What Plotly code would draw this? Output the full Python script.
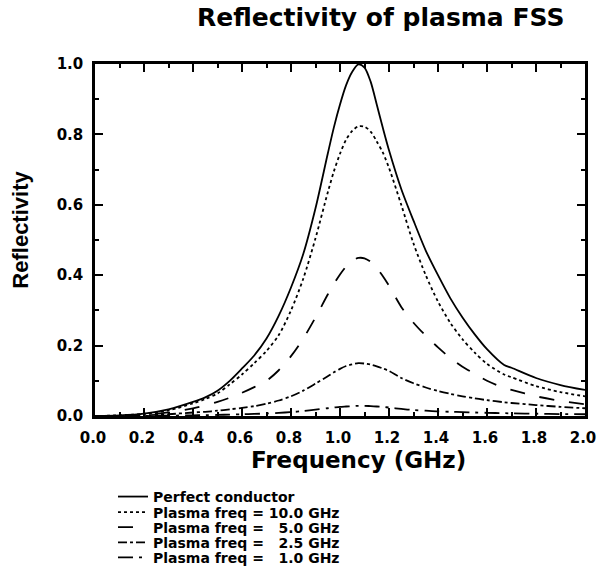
import plotly.graph_objects as go

# ---- data ----
freq = [0.0, 0.1, 0.2, 0.3, 0.4, 0.45, 0.5, 0.55, 0.6, 0.65, 0.7, 0.75, 0.8, 0.85, 0.9,
        0.95, 0.975, 1.0, 1.025, 1.05, 1.075, 1.1, 1.125, 1.15, 1.175, 1.2,
        1.25, 1.3, 1.35, 1.4, 1.45, 1.5, 1.55, 1.6, 1.67, 1.7, 1.8, 1.9, 2.0]

perfect = [0.0, 0.002, 0.007, 0.019, 0.040, 0.053, 0.072, 0.10, 0.135, 0.172, 0.22, 0.285, 0.365,
           0.46, 0.59,
           0.745, 0.82, 0.885, 0.94, 0.978, 0.999, 0.99, 0.95, 0.885, 0.818, 0.755,
           0.645, 0.555, 0.47, 0.40, 0.335, 0.28, 0.232, 0.19, 0.145, 0.137, 0.108, 0.088, 0.074]

plasma_10 = [0.0, 0.002, 0.006, 0.016, 0.036, 0.048, 0.064, 0.09, 0.118, 0.15, 0.185, 0.23, 0.30,
             0.39, 0.505,
             0.635, 0.695, 0.745, 0.785, 0.81, 0.823, 0.822, 0.808, 0.78, 0.748, 0.705,
             0.60, 0.49, 0.40, 0.325, 0.265, 0.218, 0.18, 0.148, 0.118, 0.11, 0.085, 0.068, 0.056]

plasma_5 = [0.0, 0.001, 0.004, 0.010, 0.022, 0.030, 0.040, 0.052, 0.066, 0.082, 0.10, 0.13, 0.17,
            0.22, 0.28,
            0.345, 0.375, 0.402, 0.425, 0.441, 0.449, 0.448, 0.438, 0.42, 0.397, 0.37,
            0.31, 0.265, 0.228, 0.195, 0.165, 0.14, 0.12, 0.10, 0.08, 0.074, 0.056, 0.043, 0.033]

plasma_2_5 = [0.0, 0.0005, 0.002, 0.005, 0.010, 0.012, 0.015, 0.019, 0.023, 0.028, 0.035, 0.044,
              0.056, 0.072, 0.092,
              0.113, 0.124, 0.134, 0.142, 0.147, 0.15, 0.149, 0.146, 0.141, 0.135, 0.128,
              0.108, 0.093, 0.081, 0.071, 0.063, 0.056, 0.05, 0.045, 0.039, 0.037, 0.031, 0.026,
              0.022]

plasma_1 = [0.0, 0.0, 0.0005, 0.001, 0.002, 0.0025, 0.003, 0.004, 0.005, 0.006, 0.007, 0.009,
            0.011, 0.014, 0.018,
            0.022, 0.024, 0.026, 0.027, 0.028, 0.029, 0.029, 0.028, 0.027, 0.026, 0.024,
            0.020, 0.017, 0.015, 0.013, 0.012, 0.011, 0.010, 0.009, 0.008, 0.0075, 0.0065,
            0.0055, 0.005]

series_names = [
    "Perfect conductor",
    "Plasma freq = 10.0 GHz",
    "Plasma freq = \u20075.0 GHz",
    "Plasma freq = \u20072.5 GHz",
    "Plasma freq = \u20071.0 GHz",
]
series_values = [perfect, plasma_10, plasma_5, plasma_2_5, plasma_1]

title_text = "Reflectivity of plasma FSS"
x_title = "Frequency (GHz)"
y_title = "Reflectivity"

# ---- styles / layout ----
dash_styles = ["solid", "dot", "longdash", "dashdot", "longdashdot"]
legend_rows_y = [-0.230, -0.274, -0.317, -0.360, -0.403]

W, H = 597, 571
L, R, T, B = 95, 12, 64, 155
PLOT_W = W - L - R

font_bold = dict(family="DejaVu Sans", color="black", weight=700)

fig = go.Figure()
for i, (name, vals) in enumerate(zip(series_names, series_values)):
    lg = "legend" if i == 0 else f"legend{i + 1}"
    fig.add_trace(go.Scatter(
        x=freq, y=vals, name=name, mode="lines",
        line=dict(color="black", width=1.8, dash=dash_styles[i], shape="spline", smoothing=0.8),
        legend=lg, showlegend=True,
    ))

legend_common = dict(
    x=(113 - L) / PLOT_W, xanchor="left", yanchor="middle",
    bgcolor="rgba(0,0,0,0)", borderwidth=0, itemwidth=30,
    font=dict(size=14, **font_bold),
)
layout_legends = {}
for i, yy in enumerate(legend_rows_y):
    key = "legend" if i == 0 else f"legend{i + 1}"
    layout_legends[key] = dict(y=yy, **legend_common)

axis_common = dict(
    showgrid=False, zeroline=False, showline=True, linecolor="black", linewidth=2.5,
    mirror="ticks", ticks="inside", ticklen=8, tickwidth=1.5, tickcolor="black",
    tickfont=dict(size=15, **font_bold), ticklabeloverflow="allow",
)
minor_ticks = dict(dtick=0.1, ticks="inside", ticklen=4, tickwidth=1.5, tickcolor="black")

fig.update_layout(
    width=W, height=H,
    margin=dict(l=L, r=R, t=T, b=B, autoexpand=False),
    paper_bgcolor="white", plot_bgcolor="white",
    xaxis=dict(range=[0, 2], tick0=0, dtick=0.2, tickformat=".1f", minor=minor_ticks,
               ticklabelstandoff=6, ticklabelshift=-2, **axis_common),
    yaxis=dict(range=[0, 1], tick0=0, dtick=0.2, tickformat=".1f", minor=minor_ticks,
               ticklabelstandoff=6, **axis_common),
    annotations=[
        dict(text=title_text, xref="paper", yref="paper", x=0.582, y=1.132,
             xanchor="center", yanchor="middle", showarrow=False, font=dict(size=25, **font_bold)),
        dict(text=x_title, xref="paper", yref="paper", x=0.537, y=-0.125,
             xanchor="center", yanchor="middle", showarrow=False, font=dict(size=23, **font_bold)),
        dict(text=y_title, xref="paper", yref="paper", x=-0.152, y=0.528, textangle=-90,
             xanchor="center", yanchor="middle", showarrow=False,
             font=dict(family="Liberation Sans", size=22, color="black", weight=700)),
    ],
    **layout_legends,
)

# remove the default 8px page margin so the figure fills the window exactly
fig.write_html("out.html", config={"displayModeBar": False},
               post_script="document.body.style.margin='0';")
